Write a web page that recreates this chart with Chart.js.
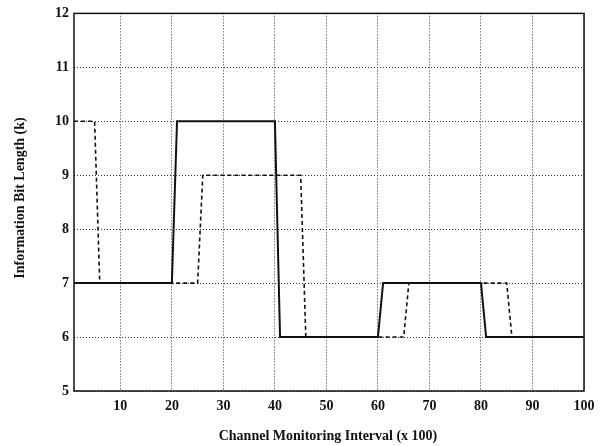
<!DOCTYPE html>
<html>
<head>
<meta charset="utf-8">
<script src="https://cdn.jsdelivr.net/npm/chart.js@4/dist/chart.umd.min.js"></script>
<style>
  html, body { margin: 0; padding: 0; background: #fff; }
  #wrap { width: 609px; height: 446px; }
</style>
</head>
<body>
<div id="wrap"><canvas id="chart" width="609" height="446"></canvas></div>
<script>
// values
const solidX = [1, 20, 21, 40, 41, 60, 61, 80, 81, 100];
const solidY = [7, 7, 10, 10, 6, 6, 7, 7, 6, 6];
const dashedX = [1, 5, 6, 25, 26, 45, 46, 65, 66, 85, 86, 100];
const dashedY = [10, 10, 7, 7, 9, 9, 6, 6, 7, 7, 6, 6];
const xTicks = [10, 20, 30, 40, 50, 60, 70, 80, 90, 100];
const yTicks = [5, 6, 7, 8, 9, 10, 11, 12];

const serif = '"Liberation Serif", "DejaVu Serif", serif';
const ink = '#111';

function toPoints(xs, ys) {
  return xs.map((x, i) => ({ x, y: ys[i] }));
}

// frame round the plot area plus axis titles
const framePlugin = {
  id: 'frame',
  afterDraw(chart) {
    const { ctx, chartArea: a } = chart;
    ctx.save();
    ctx.strokeStyle = ink;
    ctx.lineWidth = 1.5;
    ctx.strokeRect(a.left, a.top, a.right - a.left, a.bottom - a.top);

    ctx.fillStyle = ink;
    ctx.font = `bold 14px ${serif}`;
    ctx.textAlign = 'center';
    ctx.textBaseline = 'middle';
    ctx.fillText('Channel Monitoring Interval (x 100)', 328, 436);

    ctx.translate(20, 198);
    ctx.rotate(-Math.PI / 2);
    ctx.fillText('Information Bit Length (k)', 0, 0);
    ctx.restore();
  },
};

new Chart(document.getElementById('chart'), {
  type: 'line',
  data: {
    datasets: [
      {
        data: toPoints(solidX, solidY),
        borderColor: ink,
        borderWidth: 2,
        pointRadius: 0,
        tension: 0,
      },
      {
        data: toPoints(dashedX, dashedY),
        borderColor: ink,
        borderWidth: 1.6,
        borderDash: [4, 3],
        pointRadius: 0,
        tension: 0,
      },
    ],
  },
  options: {
    responsive: false,
    animation: false,
    events: [],
    layout: { padding: { top: 12, right: 25, left: 0, bottom: 0 } },
    plugins: { legend: { display: false }, tooltip: { enabled: false } },
    scales: {
      x: {
        type: 'linear',
        min: 1,
        max: 100,
        afterBuildTicks: (scale) => { scale.ticks = xTicks.map((v) => ({ value: v })); },
        afterFit: (scale) => { scale.height = 55; },
        grid: { color: '#333', lineWidth: 1, drawTicks: false },
        border: { display: false, dash: [1, 2] },
        ticks: { color: ink, padding: 7, maxRotation: 0, font: { family: serif, size: 14, weight: 'bold' } },
      },
      y: {
        min: 5,
        max: 12,
        afterBuildTicks: (scale) => { scale.ticks = yTicks.map((v) => ({ value: v })); },
        afterFit: (scale) => { scale.width = 74; },
        grid: { color: '#333', lineWidth: 1, drawTicks: false },
        border: { display: false, dash: [1, 2] },
        ticks: { color: ink, padding: 5, font: { family: serif, size: 14, weight: 'bold' } },
      },
    },
  },
  plugins: [framePlugin],
});
</script>
</body>
</html>
